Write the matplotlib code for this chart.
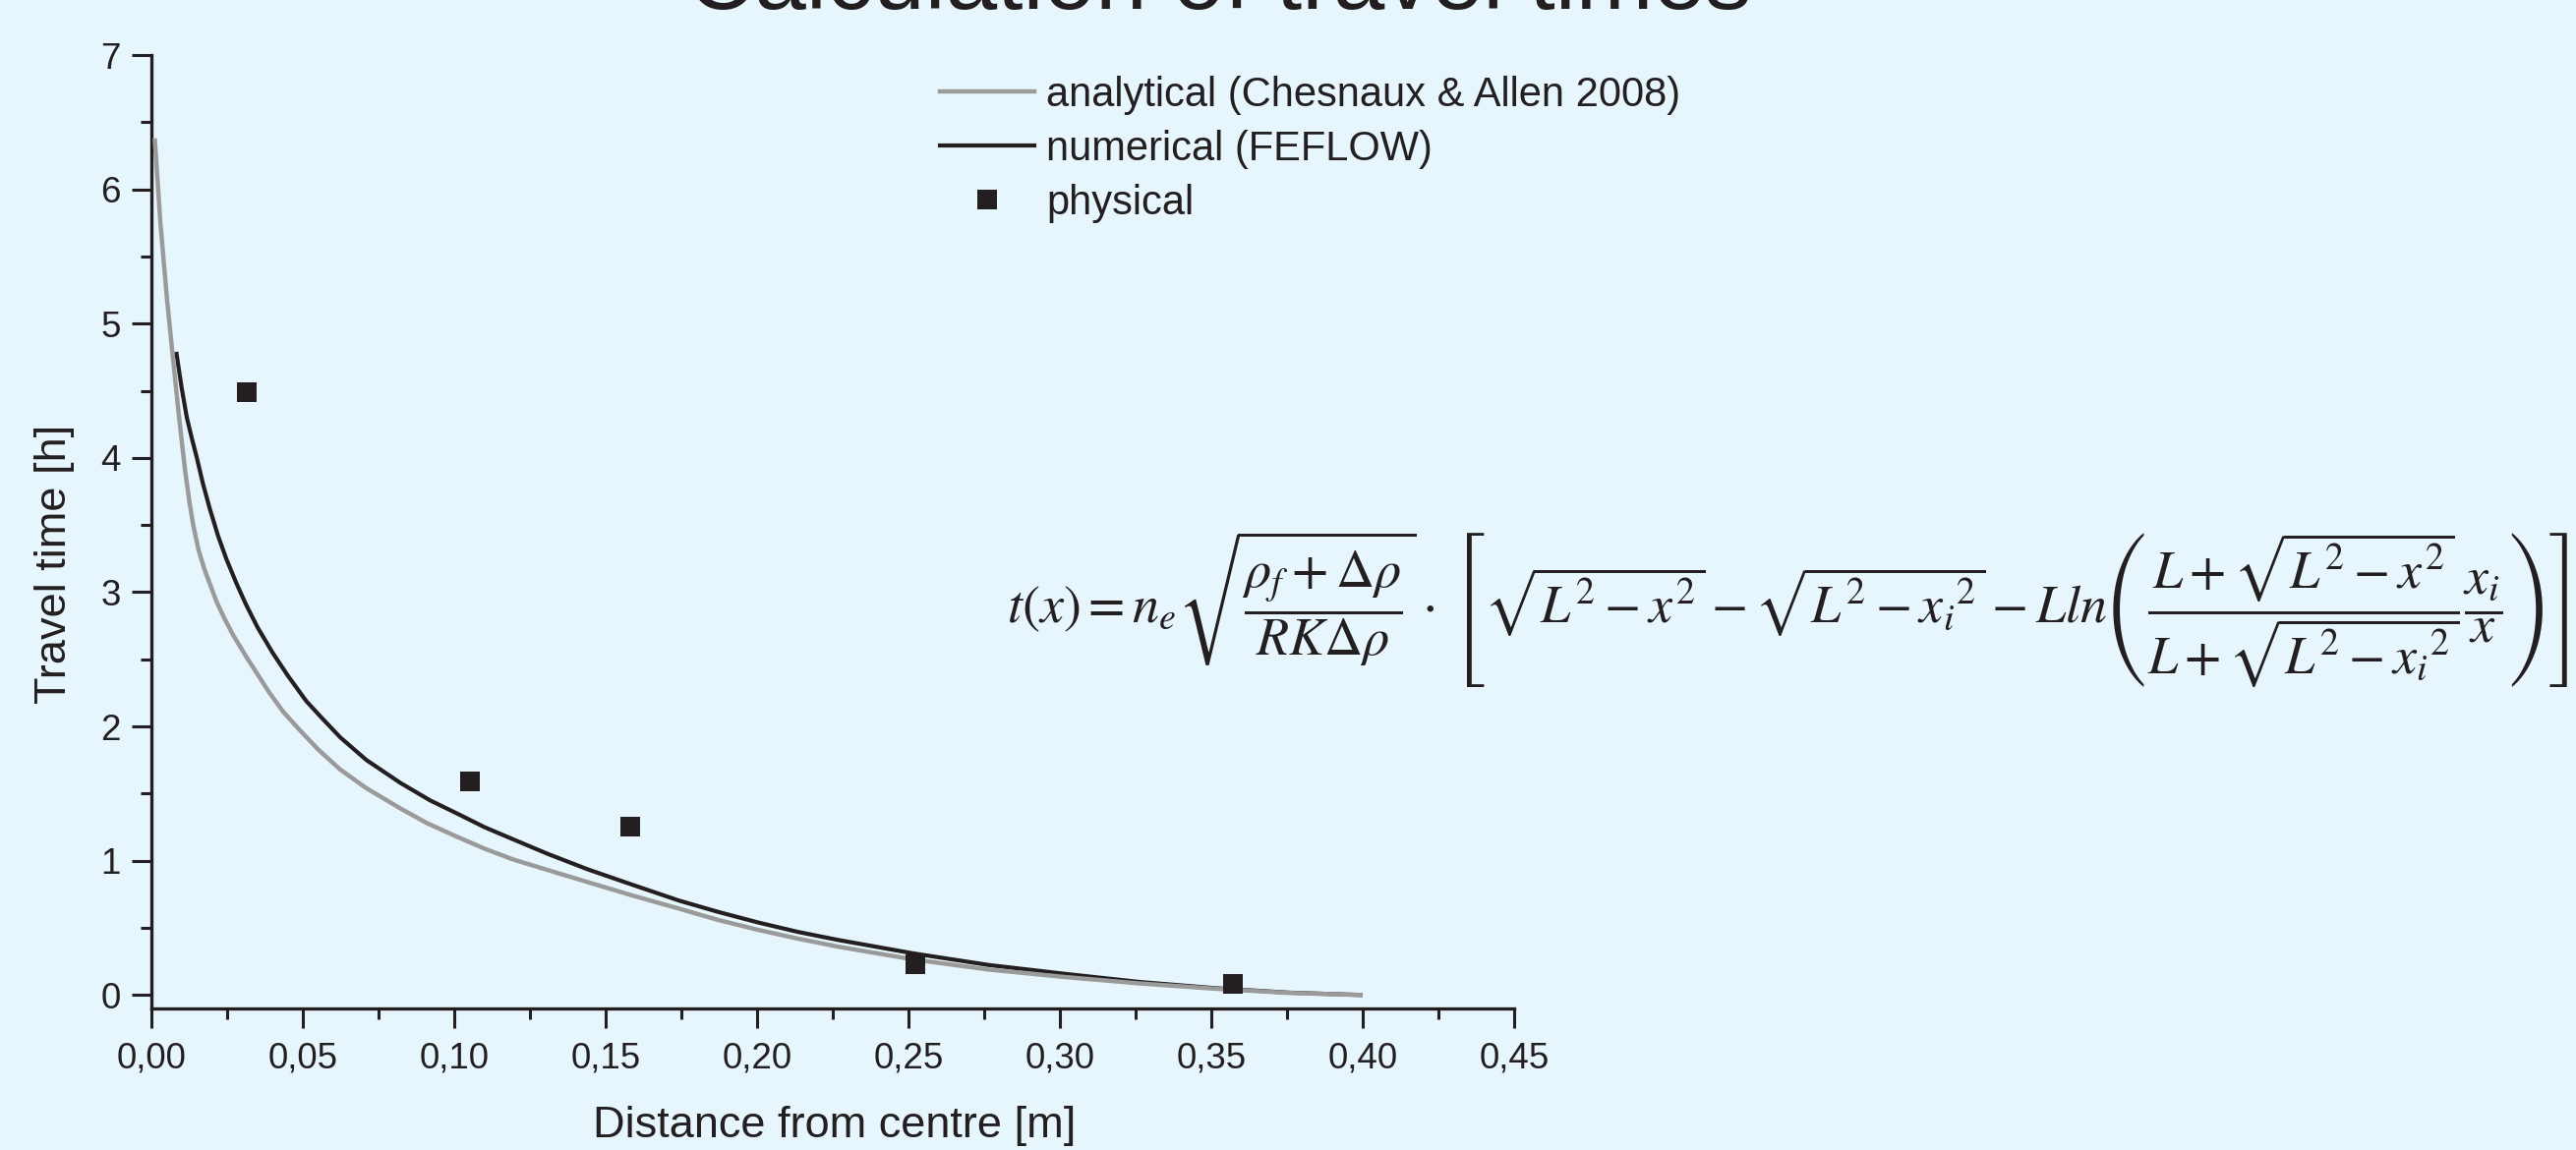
import matplotlib
matplotlib.use("Agg")
import matplotlib.pyplot as plt
from matplotlib.lines import Line2D

# ---------------- data ----------------
analytical_x = [0.0011, 0.003, 0.0052, 0.0074, 0.009, 0.0111, 0.0125, 0.0138, 0.0155,
                0.0175, 0.0195, 0.0215, 0.024, 0.027, 0.0313, 0.035, 0.0387, 0.0435,
                0.0487, 0.055, 0.0623, 0.071, 0.0822, 0.091, 0.1008, 0.11, 0.1194,
                0.131, 0.1442, 0.159, 0.174, 0.187, 0.2004, 0.2135, 0.2268, 0.2516,
                0.2764, 0.3012, 0.326, 0.3508, 0.3756, 0.400]
analytical_y = [6.38, 5.74, 5.17, 4.68, 4.33, 3.91, 3.68, 3.50, 3.32,
                3.17, 3.05, 2.93, 2.81, 2.68, 2.52, 2.39, 2.26, 2.11,
                1.98, 1.83, 1.68, 1.54, 1.39, 1.28, 1.18, 1.09, 1.01,
                0.93, 0.84, 0.74, 0.645, 0.56, 0.485, 0.42, 0.36, 0.265,
                0.19, 0.135, 0.087, 0.048, 0.016, 0.0]

numerical_x = [0.0082, 0.0100, 0.0117, 0.0133, 0.0149, 0.017, 0.0193, 0.022, 0.0247,
               0.028, 0.0312, 0.035, 0.040, 0.045, 0.0511, 0.056, 0.0623, 0.071,
               0.0822, 0.092, 0.102, 0.11, 0.1194, 0.131, 0.1442, 0.159, 0.174,
               0.187, 0.2004, 0.2135, 0.2268, 0.2516, 0.2764, 0.3012, 0.326, 0.3508,
               0.3756, 0.400]
numerical_y = [4.79, 4.52, 4.30, 4.15, 4.01, 3.81, 3.62, 3.42, 3.25,
               3.07, 2.91, 2.74, 2.55, 2.38, 2.19, 2.07, 1.92, 1.75,
               1.58, 1.45, 1.34, 1.25, 1.16, 1.05, 0.935, 0.82, 0.705,
               0.62, 0.54, 0.47, 0.41, 0.31, 0.224, 0.159, 0.098, 0.052,
               0.018, 0.0]

physical_x = [0.0316, 0.1053, 0.158, 0.2524, 0.357]
physical_y = [4.49, 1.59, 1.257, 0.23, 0.08]

x_ticks = [0.00, 0.05, 0.10, 0.15, 0.20, 0.25, 0.30, 0.35, 0.40, 0.45]
x_tick_labels = ['0,00', '0,05', '0,10', '0,15', '0,20', '0,25', '0,30', '0,35', '0,40', '0,45']
y_ticks = [0, 1, 2, 3, 4, 5, 6, 7]
y_tick_labels = ['0', '1', '2', '3', '4', '5', '6', '7']

series_labels = ['analytical (Chesnaux & Allen 2008)', 'numerical (FEFLOW)', 'physical']
title_text = 'Calculation of travel times'
x_label = 'Distance from centre [m]'
y_label = 'Travel time [h]'
formula = (r'$t(x)=n_e\sqrt{\dfrac{\rho_f+\Delta\rho}{RK\Delta\rho}}\cdot\,'
           r'\left[\sqrt{L^2-x^2}-\sqrt{L^2-{x_i}^2}-Lln'
           r'\left(\dfrac{L+\sqrt{L^2-x^2}}{L+\sqrt{L^2-{x_i}^2}}\dfrac{x_i}{x}\right)\right]$')

# ---------------- style ----------------
BG = '#e7f6fd'
INK = '#231f20'
GREY = '#9a9a9a'
plt.rcParams['font.family'] = ['Liberation Sans', 'DejaVu Sans']
plt.rcParams['mathtext.fontset'] = 'stix'

W, H = 2620, 1170
fig = plt.figure(figsize=(W / 100, H / 100), dpi=100, facecolor=BG)

left, right = 154, 1540
top, bottom = 56, 1026
ax = fig.add_axes([left / W, 1 - bottom / H, (right - left) / W, (bottom - top) / H])
ax.set_facecolor(BG)

ax.plot(numerical_x, numerical_y, color=INK, lw=3.0, zorder=2, solid_capstyle='butt')
ax.plot(analytical_x, analytical_y, color=GREY, lw=3.2, zorder=3, solid_capstyle='butt')
ax.plot(physical_x, physical_y, ls='none', marker='s', ms=14.4, color=INK,
        markeredgewidth=0, zorder=4)

ax.set_xlim(0, 0.45)
ax.set_ylim(-0.1, 7)
ax.set_xticks(x_ticks)
ax.set_xticklabels(x_tick_labels)
ax.set_yticks(y_ticks)
ax.set_yticklabels(y_tick_labels)
ax.set_xticks([0.025 + 0.05 * i for i in range(9)], minor=True)
ax.set_yticks([0.5 + i for i in range(7)], minor=True)

for s in ['top', 'right']:
    ax.spines[s].set_visible(False)
for s in ['left', 'bottom']:
    ax.spines[s].set_linewidth(2.4)
    ax.spines[s].set_color(INK)

ax.tick_params(which='major', direction='out', length=14.4, width=2.2, color=INK,
               labelsize=26.5, labelcolor=INK)
ax.tick_params(which='minor', direction='out', length=8, width=2.2, color=INK)
ax.tick_params(axis='y', which='major', pad=8)
ax.tick_params(axis='x', which='major', pad=10)

ax.set_xlabel(x_label, fontsize=32.5, color=INK, va='baseline')
ax.xaxis.set_label_coords(0.501, -(1157 - bottom) / (bottom - top))
ax.set_ylabel(y_label, fontsize=32.5, color=INK, va='center')
ax.yaxis.set_label_coords((56 - left) / (right - left), (bottom - 574) / (bottom - top))

handles = [Line2D([], [], color=GREY, lw=3.2),
           Line2D([], [], color=INK, lw=3.0),
           Line2D([], [], ls='none', marker='s', ms=14.4, color=INK, markeredgewidth=0)]
fig.legend(handles, series_labels, loc='upper left',
           bbox_to_anchor=(956 / W, 1 - 77 / H), frameon=False, fontsize=30,
           handlelength=2.3, handletextpad=0.3, labelspacing=0.36,
           borderpad=0, borderaxespad=0, labelcolor=INK)

fig.text(1240 / W, 1 - 9 / H, title_text, ha='center', va='baseline',
         fontsize=68, color=INK)

fig.text(1024 / W, 1 - 620 / H, formula, ha='left', va='center', fontsize=39, color=INK)

fig.savefig('out.png', dpi=100, facecolor=BG)
